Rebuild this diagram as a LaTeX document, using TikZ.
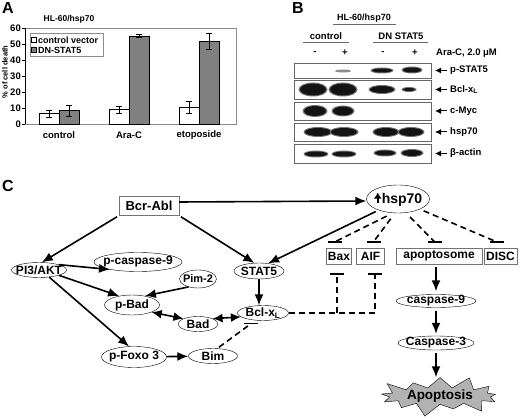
\documentclass[tikz,border=0pt]{standalone}
\usepackage{fontspec}
\setmainfont{Liberation Sans}
\usetikzlibrary{arrows.meta,positioning,shapes.geometric,shapes.symbols}
\newcommand{\sz}[1]{\fontsize{#1}{#1}\selectfont\bfseries}
\newcommand{\band}[4]{%
	\fill[black!55] (#1,#2) ellipse [x radius=#3+1.5, y radius=#4+1];
	\fill[black!92] (#1,#2) ellipse [x radius=#3, y radius=#4];}
\tikzset{%
	oval/.style   = {draw, ellipse, inner sep=-30pt, font=\sz{12}},
	gbox/.style   = {draw=black!55, rectangle, inner sep=-30pt, font=\sz{12}},
	act/.style    = {line width=1.6pt, -{Latex[length=11pt,width=9pt]}},
	dact/.style   = {line width=1.6pt, {Latex[length=10pt,width=9pt]}-{Latex[length=10pt,width=9pt]}},
	inh/.style    = {line width=1.6pt, dash pattern=on 6pt off 4pt},
	tbar/.style   = {line width=1.6pt},
	blot/.style   = {draw=black!60, line width=0.8pt},
	lbl/.style    = {font=\sz{9.5}, inner sep=0pt},
}
\begin{document}
\begin{tikzpicture}[x=1pt,y=-1pt]
	\useasboundingbox (0,0) rectangle (520,419);
	% panel letters
	\node[font=\sz{16}] (la) at (8,8) {A};
	\node[font=\sz{16}] (lb) at (298,8) {B};
	\node[font=\sz{16}] (lc) at (8,186) {C};

	% A: cell death
	\node[lbl,font=\sz{8.5}] (ta) at (69,19) {HL-60/hsp70};
	\draw[black!45] (25,28) rectangle (236,124);
	\draw (25,28) -- (25,124);
	\foreach \v in {0,10,...,60} {
		\draw (22,124-1.6*\v) -- (25,124-1.6*\v);
		\node[lbl,anchor=east] at (21,124-1.6*\v) {\v};
	}
	\node[lbl,font=\sz{7.5},rotate=90] (yl) at (5,72) {\% of cell death};
	\foreach \x/\v/\lo/\hi/\c in {39/6.5/4.5/8.5/white, 59/8.5/5/12/black!50,
		109/9/7/11/white, 129/55/54/56/black!50,
		179/10.5/7/14/white, 199/52/47/57/black!50} {
		\draw[fill=\c] (\x,124) rectangle (\x+20,124-1.6*\v);
		\draw (\x+10,124-1.6*\lo) -- (\x+10,124-1.6*\hi)
			(\x+7,124-1.6*\lo) -- (\x+13,124-1.6*\lo)
			(\x+7,124-1.6*\hi) -- (\x+13,124-1.6*\hi);
	}
	\draw[black!45,fill=white] (30,33) rectangle (103,56);
	\draw[fill=white] (31,37.5) rectangle (36,42.5);
	\draw[fill=black!50] (31,47.5) rectangle (36,52.5);
	\node[lbl,font=\sz{9}] (lg1) at (38,40) [anchor=west] {control vector};
	\node[lbl,font=\sz{9}] (lg2) at (38,50) [anchor=west] {DN-STAT5};
	\node[lbl] (g1) at (59,135) {control};
	\node[lbl] (g2) at (129,135) {Ara-C};
	\node[lbl] (g3) at (199,135) {etoposide};

	% B: western blot
	\node[lbl,font=\sz{9}] (hl) at (364,18) {HL-60/hsp70};
	\draw[black!60] (333,24) -- (396,24);
	\node[lbl] (ctl) at (326,36) {control};
	\draw[black!60] (303,42) -- (349,42);
	\node[lbl] (dn) at (401,36) {DN STAT5};
	\draw[black!60] (373,42) -- (428,42);
	\foreach \x/\s in {315/-,345/+,383/-,415/+}
		\node[lbl] at (\x,53) {\s};
	\node[lbl,anchor=west] (arac) at (436,53) {Ara-C, 2.0 μM};
	\foreach \t/\b/\lab in {63/78/p-STAT5, 80/99/Bcl-x\textsubscript{L}, 102/120/c-Myc, 123/141/hsp70, 144/163/β-actin} {
		\draw[blot] (294,\t) rectangle (431,\b);
		\draw[line width=1pt,-{Latex[length=6pt,width=6pt]}] (447,{(\t+\b)/2}) -- (435,{(\t+\b)/2});
		\node[lbl,anchor=west] at (450,{(\t+\b)/2}) {\lab};
	}
	\fill[black!45] (343,71) ellipse [x radius=8, y radius=1.5];
	\band{382}{70.5}{10}{2}
	\band{412}{70}{9}{2.5}
	\band{313}{89.5}{13}{6}
	\band{343}{89.5}{13}{6}
	\band{382}{89.5}{12}{3.5}
	\band{409}{89.5}{6}{1.5}
	\band{315}{111}{11}{5}
	\band{343}{111}{10}{4.5}
	\band{318}{132}{13}{4}
	\band{344}{132}{13}{4}
	\band{386}{132}{12}{4}
	\band{411}{132}{12}{4}
	\band{316}{154}{11}{2.5}
	\band{344}{154}{11}{2.5}
	\band{385}{153}{10}{2.5}
	\band{412}{153}{10}{3}

	% C: pathway
	\node[gbox,font=\sz{13},minimum width=60,minimum height=19] (bcr) at (149,206) {Bcr-Abl};
	\node[oval,font=\sz{14},minimum width=63,minimum height=28] (hsp) at (398,199)
		{\tikz\draw[line width=2pt,-{Latex[length=6pt,width=8pt]}] (0,0) -- (0,10pt);hsp70};
	\node[oval,minimum width=55,minimum height=15] (pi3) at (39,270) {PI3/AKT};
	\node[oval,minimum width=88,minimum height=19] (pcasp) at (138,262) {p-caspase-9};
	\node[oval,font=\sz{11},minimum width=37,minimum height=18] (pim) at (198,279) {Pim-2};
	\node[oval,minimum width=50,minimum height=16] (stat) at (259,271) {STAT5};
	\node[oval,minimum width=55,minimum height=20] (pbad) at (132,305) {p-Bad};
	\node[oval,minimum width=40,minimum height=15] (bad) at (198,324) {Bad};
	\node[oval,minimum width=51,minimum height=15] (bcl) at (263,313) {Bcl-x\textsubscript{L}};
	\node[oval,minimum width=65,minimum height=21] (foxo) at (134,357) {p-Foxo 3};
	\node[oval,minimum width=49,minimum height=15] (bim) at (213,356) {Bim};
	\node[gbox,minimum width=25,minimum height=16] (bax) at (339,256) {Bax};
	\node[gbox,minimum width=28,minimum height=16] (aif) at (370.5,256) {AIF};
	\node[gbox,minimum width=86,minimum height=16] (apo) at (439,256) {apoptosome};
	\node[gbox,minimum width=33,minimum height=16] (disc) at (500.5,256) {DISC};
	\node[oval,minimum width=80,minimum height=13] (casp9) at (436,301) {caspase-9};
	\node[oval,minimum width=76,minimum height=14] (casp3) at (436,343) {Caspase-3};
	\node[draw,starburst,starburst points=13,fill=black!30,inner sep=-30pt,minimum width=130pt,minimum height=45pt,font=\sz{13.5}] (apop) at (440,396) {Apoptosis};

	\draw[act] (bcr.east |- 0,202) -- ([yshift=-2pt]hsp.west);
	\draw[act,shorten <=2pt] (bcr.south west) -- (pi3.70);
	\draw[act,shorten <=2pt] (bcr.south east) -- (stat.120);
	\draw[act,shorten <=3pt] (hsp.210) -- (stat.40);
	\draw[act] (pi3.15) -- (pcasp.195);
	\draw[act] (pi3.345) -- (pbad.145);
	\draw[act] (pi3.325) -- (foxo.115);
	\draw[act] (pim.220) -- (pbad.35);
	\draw[dact] (pbad.340) -- (bad.160);
	\draw[dact] (bad.20) -- (bcl.190);
	\draw[act] (stat.south) -- (stat.south |- bcl.north);
	\draw[act] (foxo) -- (bim);
	\draw[act,shorten <=3pt,shorten >=3pt] (casp9.north |- apo.south) -- (casp9.north);
	\draw[act,shorten <=3pt,shorten >=2pt] (casp9) -- (casp3);
	\draw[act,shorten <=3pt] (casp3.south) -- (casp3.south |- apop.north);

	\coordinate (baxup)  at ([xshift=-4pt,yshift=6pt]bax.north);
	\coordinate (aifup)  at ([xshift=3pt,yshift=6pt]aif.north);
	\coordinate (apoup)  at ([xshift=-4.5pt,yshift=6pt]apo.north);
	\coordinate (discup) at ([xshift=-4pt,yshift=6pt]disc.north);
	\coordinate (baxdn)  at ([xshift=-2pt,yshift=-10pt]bax.south);
	\coordinate (aifdn)  at ([xshift=4.5pt,yshift=-10pt]aif.south);
	\coordinate (bclbar) at ([xshift=-12pt,yshift=-3pt]bcl.south);
	\draw[inh,shorten <=7pt] (hsp.250) -- (baxup);
	\draw[inh,shorten <=7pt] (hsp.258) -- (aifup);
	\draw[inh,shorten <=6pt] (hsp.300) -- (apoup);
	\draw[inh,shorten <=4pt] (hsp.335) -- (discup);
	\draw[inh] (bcl.east) -| (aifdn);
	\draw[inh] (baxdn |- bcl.east) -- (baxdn);
	\draw[inh,shorten <=2pt] (bim.60) -- (bclbar);
	\foreach \p in {baxup,aifup,apoup,discup,baxdn,aifdn,bclbar}
		\draw[tbar] ([xshift=-7pt]\p) -- ([xshift=7pt]\p);
\end{tikzpicture}
\end{document}
